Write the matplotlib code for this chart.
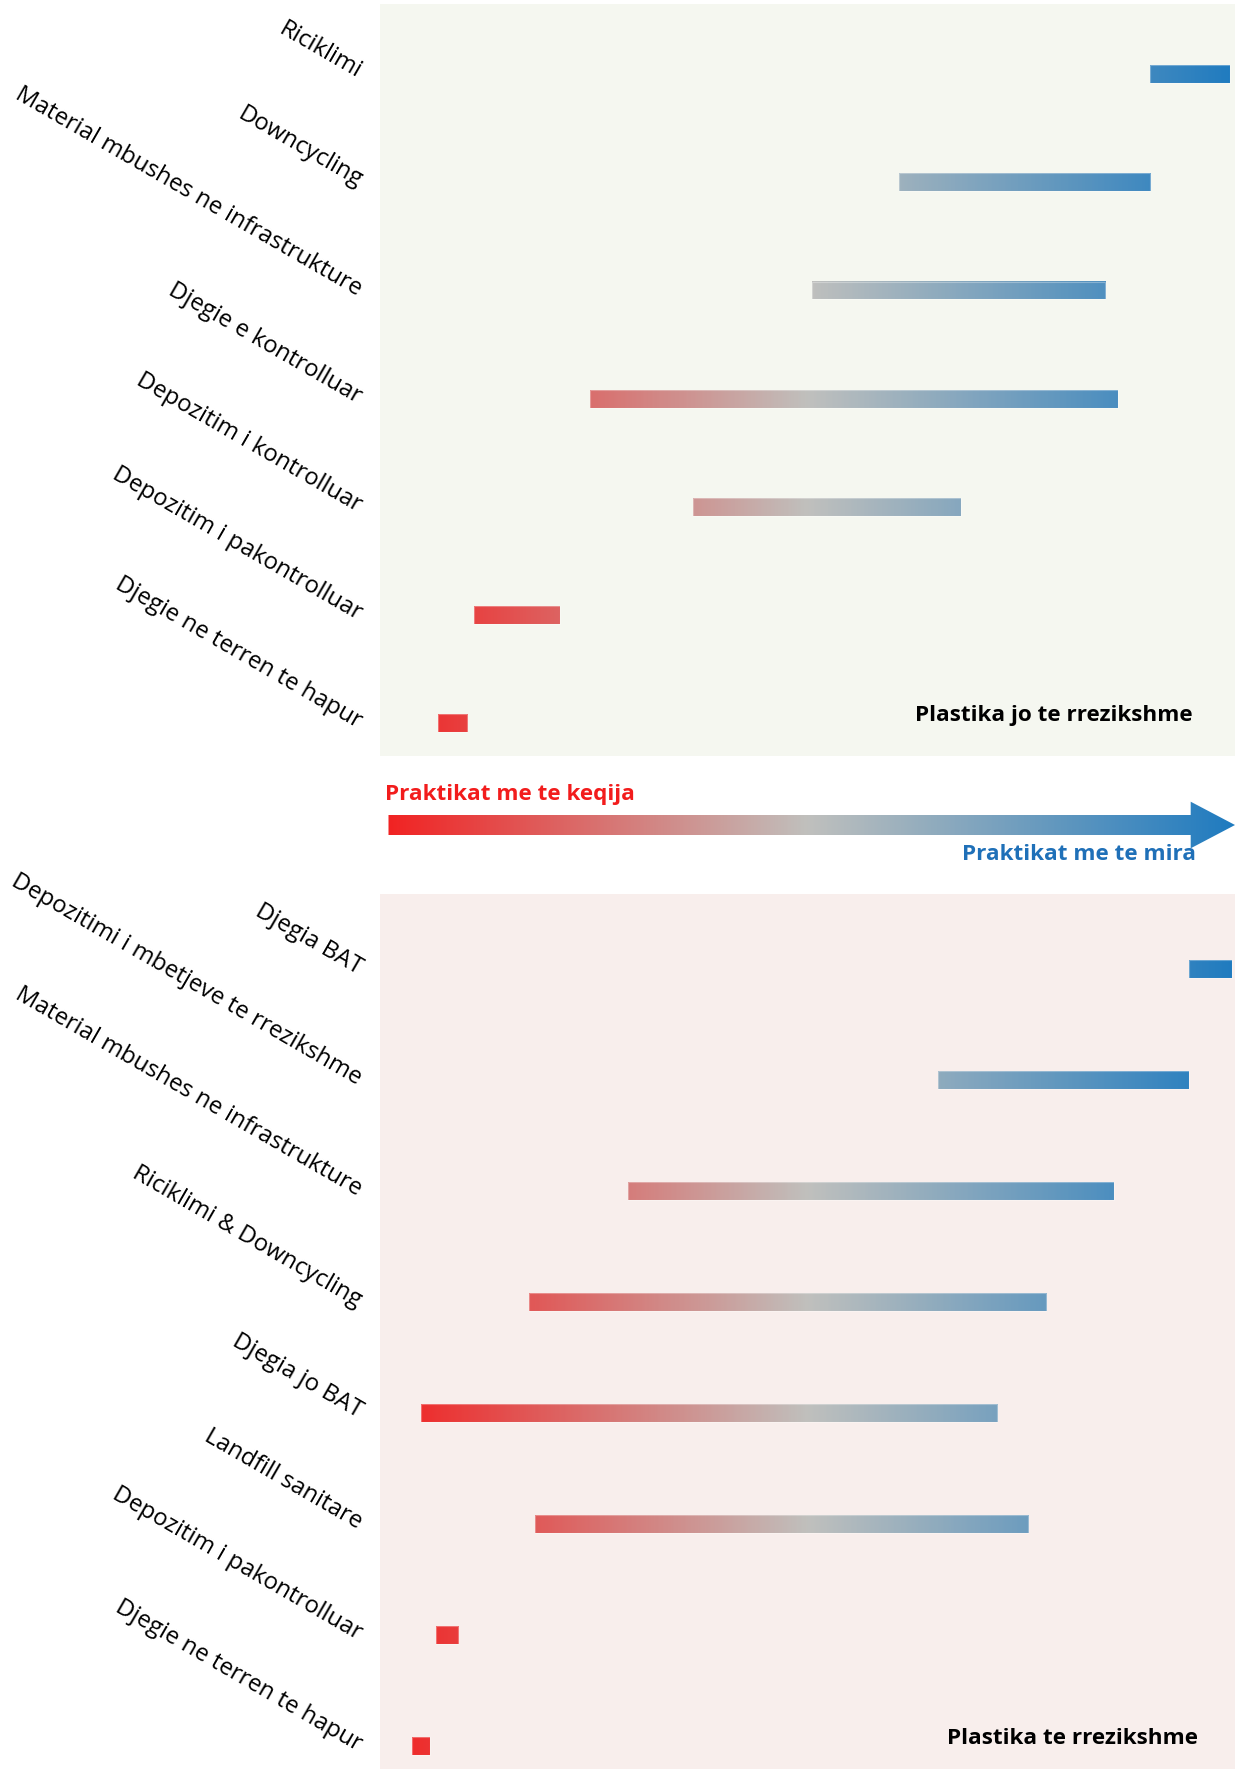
import numpy as np
import matplotlib
matplotlib.use("Agg")
import matplotlib.pyplot as plt
import matplotlib.transforms as mtransforms
from matplotlib.colors import LinearSegmentedColormap, Normalize
from matplotlib.patches import Rectangle, Polygon

plt.rcParams['font.family'] = ['Open Sans', 'DejaVu Sans']

# ---------------- data ----------------
top_labels = ["Djegie ne terren te hapur", "Depozitim i pakontrolluar",
              "Depozitim i kontrolluar", "Djegie e kontrolluar",
              "Material mbushes ne infrastrukture", "Downcycling", "Riciklimi"]
top_start = [6.8, 11.0, 36.6, 24.6, 50.5, 60.7, 90.1]
top_end = [10.2, 21.0, 67.9, 86.3, 84.8, 90.1, 99.4]

bot_labels = ["Djegie ne terren te hapur", "Depozitim i pakontrolluar",
              "Landfill sanitare", "Djegia jo BAT", "Riciklimi & Downcycling",
              "Material mbushes ne infrastrukture",
              "Depozitimi i mbetjeve te rrezikshme", "Djegia BAT"]
bot_start = [3.8, 6.5, 18.1, 4.8, 17.4, 29.0, 65.3, 94.6]
bot_end = [5.9, 9.1, 75.8, 72.2, 77.9, 85.8, 94.6, 99.6]

top_title = "Plastika jo te rrezikshme"
bot_title = "Plastika te rrezikshme"
bad_label = "Praktikat me te keqija"
good_label = "Praktikat me te mira"

# ---------------- style ----------------
cmap = LinearSegmentedColormap.from_list(
    "rgb", [(0.0, "#f22020"), (0.5, "#c0c0bd"), (1.0, "#1f7bc0")])
norm = Normalize(0, 100)

W, H = 1235, 1769
fig = plt.figure(figsize=(W / 100, H / 100), dpi=100)
fig.patch.set_facecolor("white")
label_shift = mtransforms.ScaledTranslation(-0.035, -0.05, fig.dpi_scale_trans)


def fr(x0, y0, x1, y1):
    # pixel box (top-left origin) -> figure fraction rect
    return [x0 / W, 1 - y1 / H, (x1 - x0) / W, (y1 - y0) / H]


def draw_panel(ax, labels, starts, ends, bg, ylim, bar_h, title, title_xy):
    ax.set_facecolor(bg)
    for i, (s, e) in enumerate(zip(starts, ends)):
        grad = np.linspace(s, e, 256)[None, :]
        ax.imshow(grad, cmap=cmap, norm=norm, aspect="auto",
                  extent=[s, e, i - bar_h / 2, i + bar_h / 2],
                  interpolation="bilinear", zorder=2)
        ax.add_patch(Rectangle((s, i - bar_h / 2), e - s, bar_h, fill=False,
                               edgecolor=(1, 1, 1, 0.3), lw=0.8, zorder=3))
    ax.set_xlim(0, 100)
    ax.set_ylim(*ylim)
    ax.set_xticks([])
    ax.set_yticks(range(len(labels)))
    ax.set_yticklabels(labels, rotation=-30, ha="right", va="baseline",
                       rotation_mode="anchor", fontsize=17.2, color="black")
    ax.tick_params(axis="y", length=0, pad=14)
    for lab in ax.get_yticklabels():
        lab.set_transform(lab.get_transform() + label_shift)
    for sp in ax.spines.values():
        sp.set_visible(False)
    ax.text(title_xy[0], title_xy[1], title, transform=ax.transAxes,
            ha="right", va="baseline", fontsize=16.2, fontweight="bold",
            color="black")


ax_top = fig.add_axes(fr(380, 4, 1235, 756))
draw_panel(ax_top, top_labels, top_start, top_end, "#f5f7f0",
           (-0.302, 6.648), 0.165, top_title,
           ((1193 - 380) / 855, (756 - 721) / 752))

ax_bot = fig.add_axes(fr(380, 894.5, 1235, 1769))
draw_panel(ax_bot, bot_labels, bot_start, bot_end, "#f8eeec",
           (-0.2045, 7.675), 0.162, bot_title,
           ((1198 - 380) / 855, (1769 - 1743.5) / 874.5))

# ---------------- gradient arrow ----------------
ax_ar = fig.add_axes(fr(380, 756, 1235, 894.5))
ax_ar.set_xlim(0, 100)
ax_ar.set_ylim(894.5, 756)
ax_ar.axis("off")
x_b0 = (388.5 - 380) / 855 * 100
x_h0 = (1190.7 - 380) / 855 * 100
x_tip = 100.0
arrow = Polygon([(x_b0, 815), (x_h0, 815), (x_h0, 801.7), (x_tip, 825),
                 (x_h0, 848.3), (x_h0, 835), (x_b0, 835)],
                closed=True, facecolor="none", edgecolor="none")
ax_ar.add_patch(arrow)
im = ax_ar.imshow(np.linspace(0, 100, 512)[None, :], cmap=cmap, norm=norm,
                  aspect="auto", extent=[0, 100, 850, 800],
                  interpolation="bilinear")
im.set_clip_path(arrow)
ax_ar.set_xlim(0, 100)
ax_ar.set_ylim(894.5, 756)
ax_ar.text((385.4 - 380) / 855 * 100, 800.0, bad_label, ha="left",
           va="baseline", fontsize=16.2, fontweight="bold", color="#f21c1c")
ax_ar.text((1195.7 - 380) / 855 * 100, 860.0, good_label, ha="right",
           va="baseline", fontsize=16.2, fontweight="bold", color="#1f70b8")

fig.savefig("out.png", dpi=100, facecolor="white")
